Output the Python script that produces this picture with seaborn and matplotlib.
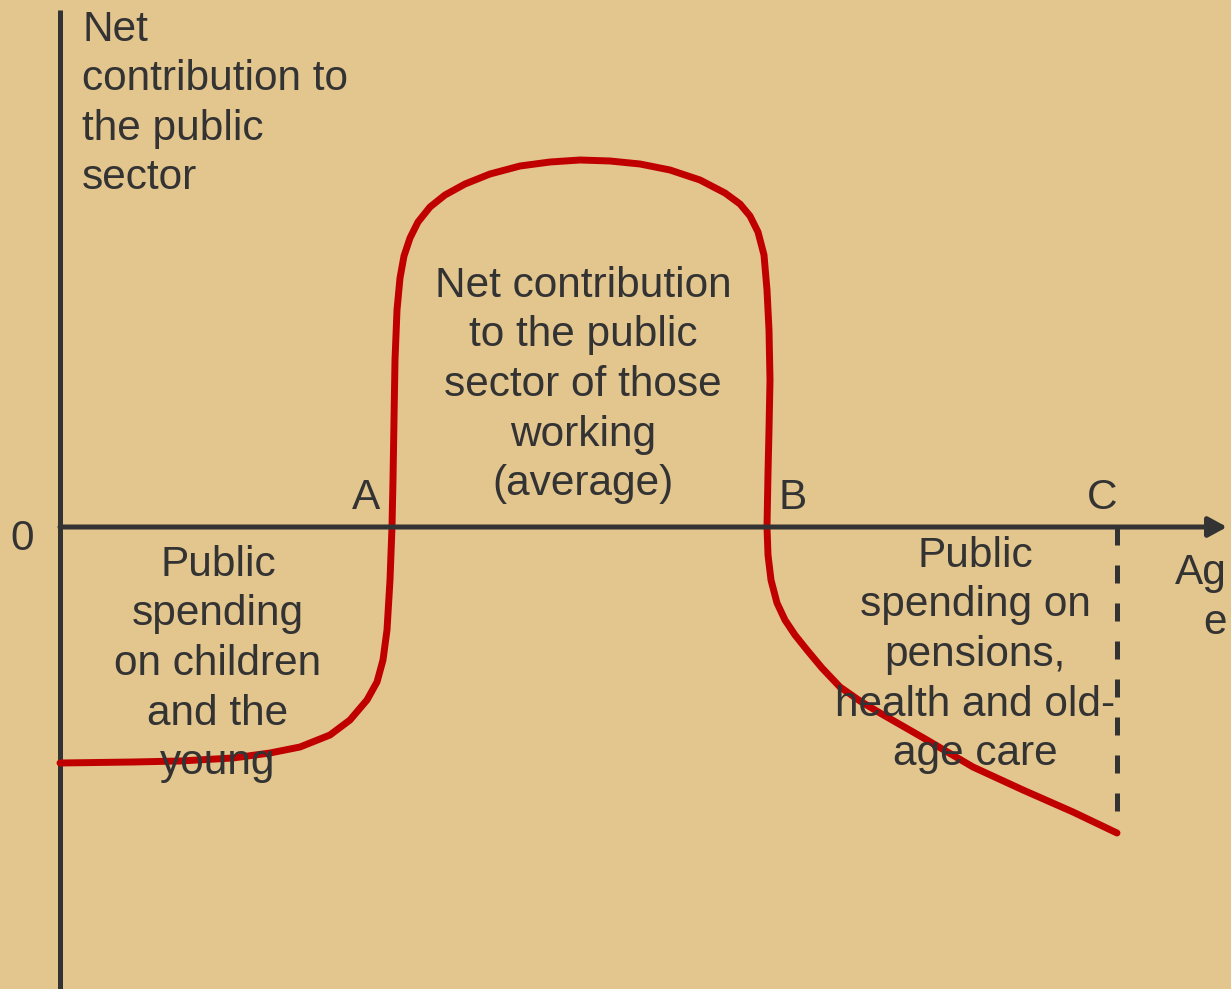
import matplotlib
matplotlib.use("Agg")
import matplotlib.pyplot as plt
import seaborn as sns
import pandas as pd

# ---- data (schematic units: age offset from origin, net contribution) ----
age = [0, 73, 120, 173, 210, 240, 270, 290, 307, 317, 323, 327, 330, 332,
       333, 334, 335, 337, 340, 344, 350, 358, 370, 385, 405, 430, 460, 490,
       520, 550, 580, 610, 640, 665, 680, 690, 698, 704, 707, 709, 710, 709,
       708, 707, 708, 711, 717, 725, 735, 747, 762, 780, 800, 820, 867, 913,
       963, 1013, 1057]
net = [-236, -235, -234, -231, -226, -220, -208, -193, -173, -155, -133, -103, -53, 0,
       47, 107, 167, 217, 249, 271, 289, 305, 320, 332, 343, 353, 361, 365,
       367, 366, 363, 357, 347, 334, 323, 311, 295, 272, 237, 197, 147, 97,
       54, 0, -28, -53, -76, -93, -108, -123, -141, -160, -174, -186, -213, -240,
       -263, -285, -306]

end_age = 1057          # point C
x_axis_end = 1167       # end of age axis (arrow tip)
y_axis_top = 517
y_axis_bottom = -462

point_labels = ["A", "B", "C"]
y_label = "Net\ncontribution to\nthe public\nsector"
x_label = "Ag\ne"
zero_label = "0"
young_text = "Public\nspending\non children\nand the\nyoung"
working_text = "Net contribution\nto the public\nsector of those\nworking\n(average)"
old_text = "Public\nspending on\npensions,\nhealth and old-\nage care"

bg = "#E3C58E"
ink = "#333333"
red = "#C00000"

sns.set_theme(style="white", rc={"axes.facecolor": bg, "figure.facecolor": bg})
plt.rcParams["font.family"] = ["Liberation Sans", "DejaVu Sans"]

fig = plt.figure(figsize=(12.31, 9.89), dpi=100)
ax = fig.add_axes([0, 0, 1, 1])

# axes
ax.plot([0, 0], [y_axis_bottom, y_axis_top], color=ink, lw=3.6, solid_capstyle="butt")
ax.annotate("", xy=(x_axis_end, 0), xytext=(0, 0),
            arrowprops=dict(arrowstyle="-|>,head_length=0.55,head_width=0.3",
                            lw=3.6, color=ink, shrinkA=0, shrinkB=0,
                            mutation_scale=20))

# dashed line at C
ax.plot([end_age, end_age], [0, net[-1]], color=ink, lw=3.6,
        dashes=(3.6, 4.0), dash_capstyle="butt")

# curve
df = pd.DataFrame({"age": age, "net": net})
sns.lineplot(data=df, x="age", y="net", sort=False, color=red, lw=5.0, ax=ax,
             estimator=None)
ax.set_xlim(-60, 1171)
ax.set_ylim(-462, 527)
ax.axis("off")

fs = 30.5
ls = 1.31
ax.text(22, 423, y_label, fontsize=fs, color=ink, ha="left", va="center", linespacing=ls)
ax.text(-38, -12, zero_label, fontsize=fs, color=ink, ha="center", va="center")
ax.text(306, 29, point_labels[0], fontsize=fs, color=ink, ha="center", va="center")
ax.text(733, 29, point_labels[1], fontsize=fs, color=ink, ha="center", va="center")
ax.text(1042, 29, point_labels[2], fontsize=fs, color=ink, ha="center", va="center")
ax.text(1167, -71, x_label, fontsize=fs, color=ink, ha="right", va="center",
        multialignment="right", linespacing=ls)
ax.text(158, -137, young_text, fontsize=fs, color=ink, ha="center", va="center", linespacing=ls)
ax.text(523, 142, working_text, fontsize=fs, color=ink, ha="center", va="center", linespacing=ls)
ax.text(915, -128, old_text, fontsize=fs, color=ink, ha="center", va="center", linespacing=ls)

fig.savefig("out.png", dpi=100, facecolor=bg)
